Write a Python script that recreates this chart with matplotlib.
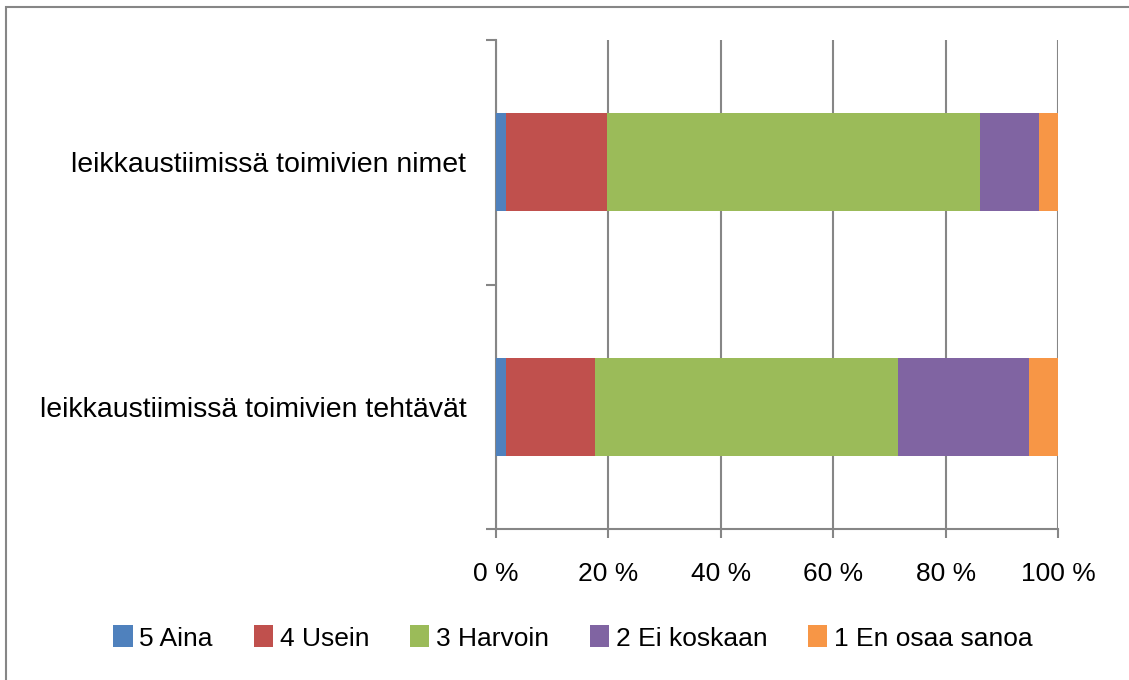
import numpy as np
import matplotlib
matplotlib.use("Agg")
import matplotlib.pyplot as plt
from matplotlib.patches import Rectangle
from matplotlib.ticker import FuncFormatter, FixedLocator

plt.rcParams['font.family'] = ['Liberation Sans', 'DejaVu Sans']

# kategoriat (alhaalta ylös)
kategoriat = ["leikkaustiimissä toimivien tehtävät", "leikkaustiimissä toimivien nimet"]
sarjat = ["5 Aina", "4 Usein", "3 Harvoin", "2 Ei koskaan", "1 En osaa sanoa"]

aina = [1.8, 1.8]
usein = [15.9, 18.0]
harvoin = [53.8, 66.3]
ei_koskaan = [23.3, 10.4]
en_osaa = [5.2, 3.5]

varit = ["#4F81BD", "#C0504D", "#9BBB59", "#8064A2", "#F79646"]
harmaa = "#868686"

fig = plt.figure(figsize=(11.29, 6.8), dpi=100)
ax = fig.add_axes([495.5 / 1129, 1 - 529 / 680, (1058.3 - 495.5) / 1129, (529 - 40) / 680])

y = np.arange(len(kategoriat))
vasen = np.zeros(len(kategoriat))
for nimi, arvot, vari in zip(sarjat, [aina, usein, harvoin, ei_koskaan, en_osaa], varit):
    ax.barh(y, arvot, left=vasen, height=0.4, color=vari, label=nimi, zorder=3)
    vasen += np.array(arvot)

ax.set_xlim(0, 100)
ax.set_ylim(-0.5, 1.5)
ax.set_xticks(np.arange(0, 101, 20))
ax.xaxis.set_major_formatter(FuncFormatter(lambda v, p: f"{int(v)} %"))
ax.grid(axis="x", color=harmaa, linewidth=1.5, zorder=0)

ax.set_yticks(y)
ax.set_yticklabels(kategoriat)
ax.yaxis.set_minor_locator(FixedLocator([-0.5, 0.5, 1.5]))
ax.tick_params(axis="y", which="major", length=0, pad=21, labelsize=20.5)
ax.tick_params(axis="y", which="minor", length=7, width=1.5, color=harmaa, direction="out")
ax.tick_params(axis="x", which="major", length=6.5, width=1.5, color=harmaa, pad=17, labelsize=19)

for s in ["top", "right"]:
    ax.spines[s].set_visible(False)
for s in ["left", "bottom"]:
    ax.spines[s].set_color(harmaa)
    ax.spines[s].set_linewidth(1.5)

fig.legend(loc="center", bbox_to_anchor=(0.5075, 1 - 638 / 680), ncol=5, frameon=False,
           fontsize=19, handlelength=0.73, handleheight=0.9, handletextpad=0.25,
           columnspacing=1.55)

fig.patches.append(Rectangle((6 / 1129, -0.1), 1.2, 1.1 - 7 / 680, transform=fig.transFigure,
                             fill=False, edgecolor=harmaa, linewidth=1.5))

fig.savefig("out.png", dpi=100)
